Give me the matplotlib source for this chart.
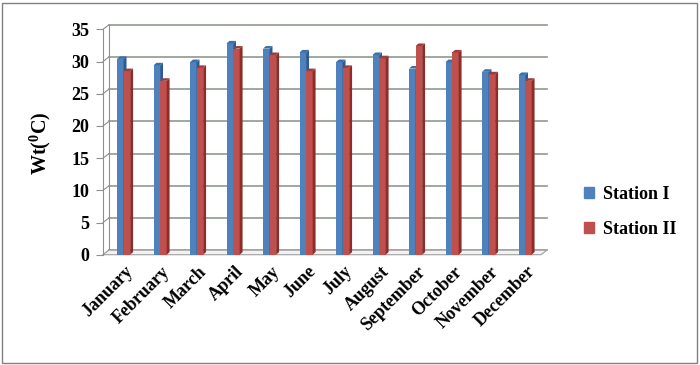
import numpy as np
import matplotlib
matplotlib.use('Agg')
import matplotlib.pyplot as plt
from matplotlib.patches import Polygon, Patch, Rectangle

plt.rcParams.update({'font.family': 'serif',
                     'font.serif': ['Liberation Serif'],
                     'font.weight': 'bold',
                     'mathtext.fontset': 'custom',
                     'mathtext.rm': 'Liberation Serif:bold',
                     'mathtext.default': 'rm'})

months = ['January', 'February', 'March', 'April', 'May', 'June', 'July',
          'August', 'September', 'October', 'November', 'December']
station1 = [30.4, 29.4, 29.9, 32.8, 32.0, 31.4, 29.9, 31.0, 28.9, 29.9, 28.4, 27.9]
station2 = [28.5, 27.0, 29.0, 32.0, 31.0, 28.5, 29.0, 30.5, 32.4, 31.4, 28.0, 27.0]
yticks = [0, 5, 10, 15, 20, 25, 30, 35]

W, H = 700, 365
fig = plt.figure(figsize=(W / 100, H / 100), dpi=100)
ax = fig.add_axes([103 / W, (H - 254.7) / H, 438 / W, 225.4 / H])
ax.set_xlim(-0.5, 11.5)
ax.set_ylim(0, 35)

grid_c = '#8e998e'
wall_dx, wall_dy = 0.164, 0.7   # back wall offset (data units)
x0, x1 = -0.5, 11.5

# floor
ax.add_patch(Polygon([(x0, 0), (x1, 0), (x1 + wall_dx, wall_dy), (x0 + wall_dx, wall_dy)],
                     closed=True, facecolor='#f2f2f2', edgecolor='#a0a0a0',
                     lw=0.8, clip_on=False, zorder=1))
# back wall gridlines
for v in yticks:
    ax.plot([x0 + wall_dx, x1 + wall_dx], [v + wall_dy, v + wall_dy],
            color=grid_c, lw=1.2, clip_on=False, zorder=0.5)
    ax.plot([x0, x0 + wall_dx], [v, v + wall_dy], color='#909090', lw=0.8,
            clip_on=False, zorder=0.5)
ax.plot([x0 + wall_dx, x0 + wall_dx], [wall_dy, 35 + wall_dy], color='#909090',
        lw=0.8, clip_on=False, zorder=0.5)

# bars with 3D faces
x = np.arange(len(months))
w = 0.18
bdx, bdy = 0.08, 0.4
series = [(station1, -0.116, '#4f81bd', '#2c5a94', '#3c6ea8'),
          (station2, -0.116 + w, '#c0504d', '#8c2d2a', '#a03c38')]
for vals, off, front, side, cap in series:
    ax.bar(x + off, vals, width=w, align='edge', color=front, zorder=3, lw=0)
    for xi, h in zip(x + off, vals):
        ax.add_patch(Polygon([(xi + w, 0), (xi + w + bdx, bdy), (xi + w + bdx, h + bdy), (xi + w, h)],
                             closed=True, facecolor=side, lw=0, zorder=3))
        ax.add_patch(Polygon([(xi, h), (xi + w, h), (xi + w + bdx, h + bdy), (xi + bdx, h + bdy)],
                             closed=True, facecolor=cap, lw=0, zorder=3))

for s in ['top', 'right', 'bottom']:
    ax.spines[s].set_visible(False)
ax.spines['left'].set_color('#909090')
ax.set_yticks(yticks)
ax.set_yticklabels([str(t) for t in yticks], fontsize=13, fontweight='bold')
ax.tick_params(axis='y', length=5, color='#909090', pad=5)
ax.set_xticks([])

for i, m in enumerate(months):
    ax.text(i + 0.1, -1.3, m, rotation=45, ha='right', va='top',
            rotation_mode='anchor', fontsize=13, fontweight='bold')

fig.text(40 / W, 1 - 143 / H, r'Wt($^0$C)', rotation=90, ha='center', va='center',
         fontsize=14.5, fontweight='bold')

handles = [Patch(color='#4f81bd'), Patch(color='#c0504d')]
fig.legend(handles, ['Station I', 'Station II'], loc='center left',
           bbox_to_anchor=(568 / W, 1 - 212 / H), frameon=False,
           handlelength=0.55, handleheight=0.55, handletextpad=0.5,
           labelspacing=1.0, prop={'size': 13, 'weight': 'bold'})

fig.patches.append(Rectangle((2 / W, 2 / H), 695 / W, 360 / H, transform=fig.transFigure,
                             fill=False, edgecolor='#808080', lw=1))

fig.savefig('out.png', dpi=100)
